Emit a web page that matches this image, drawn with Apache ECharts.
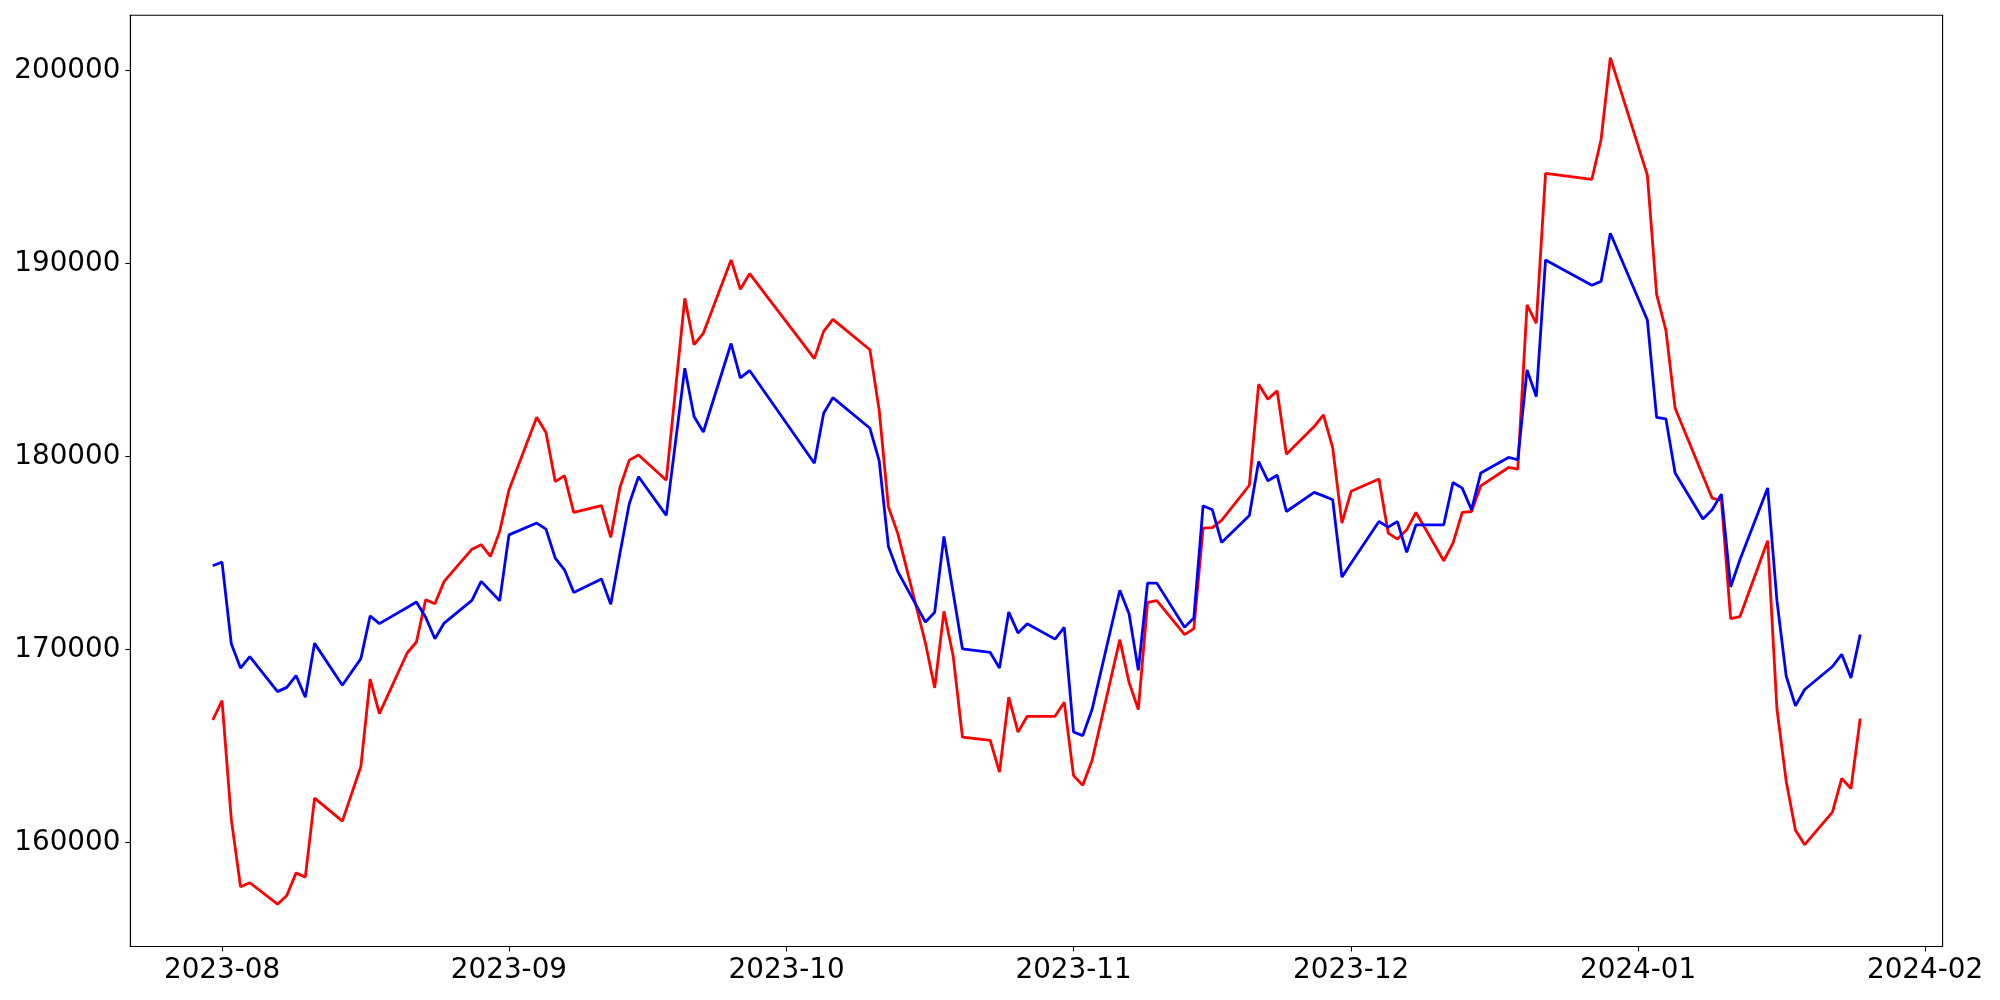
<!DOCTYPE html>
<html>
<head>
<meta charset="utf-8">
<script src="https://cdn.jsdelivr.net/npm/echarts@6/dist/echarts.min.js"></script>
<style>
    html, body { margin: 0; padding: 0; background: #fff; }
    #chart { width: 2000px; height: 1000px; }
</style>
</head>
<body>
<div id="chart"></div>
<script>
// trading days
var dates = [
    '2023-07-31','2023-08-01','2023-08-02','2023-08-03','2023-08-04',
    '2023-08-07','2023-08-08','2023-08-09','2023-08-10','2023-08-11',
    '2023-08-14','2023-08-16','2023-08-17','2023-08-18',
    '2023-08-21','2023-08-22','2023-08-23','2023-08-24','2023-08-25',
    '2023-08-28','2023-08-29','2023-08-30','2023-08-31','2023-09-01',
    '2023-09-04','2023-09-05','2023-09-06','2023-09-07','2023-09-08',
    '2023-09-11','2023-09-12','2023-09-13','2023-09-14','2023-09-15',
    '2023-09-18','2023-09-20','2023-09-21','2023-09-22',
    '2023-09-25','2023-09-26','2023-09-27',
    '2023-10-04','2023-10-05','2023-10-06',
    '2023-10-10','2023-10-11','2023-10-12','2023-10-13',
    '2023-10-16','2023-10-17','2023-10-18','2023-10-19','2023-10-20',
    '2023-10-23','2023-10-24','2023-10-25','2023-10-26','2023-10-27',
    '2023-10-30','2023-10-31','2023-11-01','2023-11-02','2023-11-03',
    '2023-11-06','2023-11-07','2023-11-08','2023-11-09','2023-11-10',
    '2023-11-13','2023-11-14','2023-11-15','2023-11-16','2023-11-17',
    '2023-11-20','2023-11-21','2023-11-22','2023-11-23','2023-11-24',
    '2023-11-27','2023-11-28','2023-11-29','2023-11-30','2023-12-01',
    '2023-12-04','2023-12-05','2023-12-06','2023-12-07','2023-12-08',
    '2023-12-11','2023-12-12','2023-12-13','2023-12-14','2023-12-15',
    '2023-12-18','2023-12-19','2023-12-20','2023-12-21','2023-12-22',
    '2023-12-27','2023-12-28','2023-12-29',
    '2024-01-02','2024-01-03','2024-01-04','2024-01-05',
    '2024-01-08','2024-01-09','2024-01-10','2024-01-11','2024-01-12',
    '2024-01-15','2024-01-16','2024-01-17','2024-01-18','2024-01-19',
    '2024-01-22','2024-01-23','2024-01-24','2024-01-25'
];

var redValues = [
    166350,167350,161200,157710,157920,
    156810,157260,158430,158210,162300,
    161110,163940,168470,166680,
    169820,170390,172580,172370,173530,
    175200,175430,174820,176120,178270,
    182030,181240,178700,179010,177100,
    177450,175810,178410,179810,180080,
    178770,188190,185790,186380,
    190180,188660,189470,
    185070,186480,187100,
    185530,182410,177380,176030,
    170340,168010,171980,169650,165460,
    165300,163650,167530,165720,166540,
    166540,167270,163470,162970,164250,
    170510,168300,166890,172440,172530,
    170770,171080,176290,176320,176690,
    178510,183740,182970,183400,180120,
    181550,182150,180460,176550,178200,
    178830,176030,175720,176200,177100,
    174600,175510,177100,177150,178480,
    179430,179340,187850,186900,194660,
    194350,196420,200660,
    194570,188400,186550,182500,
    179000,177840,177720,171600,171700,
    175640,166920,163180,160640,159890,
    161580,163320,162800,166430
];

var blueValues = [
    174340,174530,170300,169040,169630,
    167820,168040,168650,167530,170320,
    168150,169530,171740,171340,
    172180,172460,171670,170560,171370,
    172550,173530,173030,172530,175940,
    176550,176240,174740,174130,172960,
    173650,172340,175000,177550,178950,
    176950,184570,182070,181270,
    185850,184070,184450,
    179650,182240,183050,
    181460,179790,175340,174050,
    171420,171930,175860,172930,170030,
    169850,169040,171940,170860,171340,
    170540,171150,165730,165540,166890,
    173070,171850,168920,173440,173440,
    171150,171630,177450,177240,175550,
    176940,179740,178740,179030,177150,
    178140,177960,177760,173750,174480,
    176630,176340,176630,175030,176460,
    176460,178650,178360,177240,179140,
    179950,179830,184480,183100,190180,
    188870,189070,191560,
    187070,182030,181950,179140,
    176760,177240,178050,173240,174650,
    178370,172530,168630,167080,167930,
    169120,169750,168530,170780
];

var yTicks = [160000, 170000, 180000, 190000, 200000];
var xTicks = ['2023-08-01','2023-09-01','2023-10-01','2023-11-01','2023-12-01','2024-01-01','2024-02-01'];

function ts(s) {
    var p = s.split('-').map(Number);
    return Date.UTC(p[0], p[1] - 1, p[2]);
}
function pad(n) { return n < 10 ? '0' + n : '' + n; }

var times = dates.map(ts);
var redData = times.map(function (t, i) { return [t, redValues[i]]; });
var blueData = times.map(function (t, i) { return [t, blueValues[i]]; });

// axis limits with 5% margins around the data
var t0 = times[0], t1 = times[times.length - 1];
var xMin = t0 - 0.05 * (t1 - t0), xMax = t1 + 0.05 * (t1 - t0);
var allV = redValues.concat(blueValues);
var vMin = Math.min.apply(null, allV), vMax = Math.max.apply(null, allV);
var yMin = vMin - 0.05 * (vMax - vMin), yMax = vMax + 0.05 * (vMax - vMin);

var font = 'DejaVu Sans';
var myChart = echarts.init(document.getElementById('chart'));
myChart.setOption({
    animation: false,
    backgroundColor: '#fff',
    grid: {
        left: 130.4,
        right: 57.4,
        top: 15.3,
        bottom: 53.5,
        show: true,
        borderColor: '#000',
        borderWidth: 1.1,
        outerBoundsMode: 'none'
    },
    xAxis: {
        type: 'value',   // timestamps on a value axis
        min: xMin,
        max: xMax,
        splitLine: { show: false },
        axisLine: { show: true, lineStyle: { color: '#000', width: 1.1 } },
        axisTick: {
            show: true,
            length: 5,
            lineStyle: { color: '#000', width: 1.1 },
            customValues: xTicks.map(ts)
        },
        axisLabel: {
            color: '#000',
            fontFamily: font,
            fontSize: 27.8,
            margin: 10,
            customValues: xTicks.map(ts),
            formatter: function (v) {
                var d = new Date(v);
                return d.getUTCFullYear() + '-' + pad(d.getUTCMonth() + 1);
            }
        }
    },
    yAxis: {
        type: 'value',
        min: yMin,
        max: yMax,
        splitLine: { show: false },
        axisLine: { show: true, lineStyle: { color: '#000', width: 1.1 } },
        axisTick: {
            show: true,
            length: 5,
            lineStyle: { color: '#000', width: 1.1 },
            customValues: yTicks
        },
        axisLabel: {
            color: '#000',
            fontFamily: font,
            fontSize: 27.8,
            margin: 10,
            customValues: yTicks,
            formatter: function (v) { return String(Math.round(v)); }
        }
    },
    series: [
        {
            type: 'line',
            data: redData,
            symbol: 'none',
            lineStyle: { color: '#ff0000', width: 2.8 },
            itemStyle: { color: '#ff0000' }
        },
        {
            type: 'line',
            data: blueData,
            symbol: 'none',
            lineStyle: { color: '#0000ff', width: 2.8 },
            itemStyle: { color: '#0000ff' }
        }
    ]
});
</script>
</body>
</html>
